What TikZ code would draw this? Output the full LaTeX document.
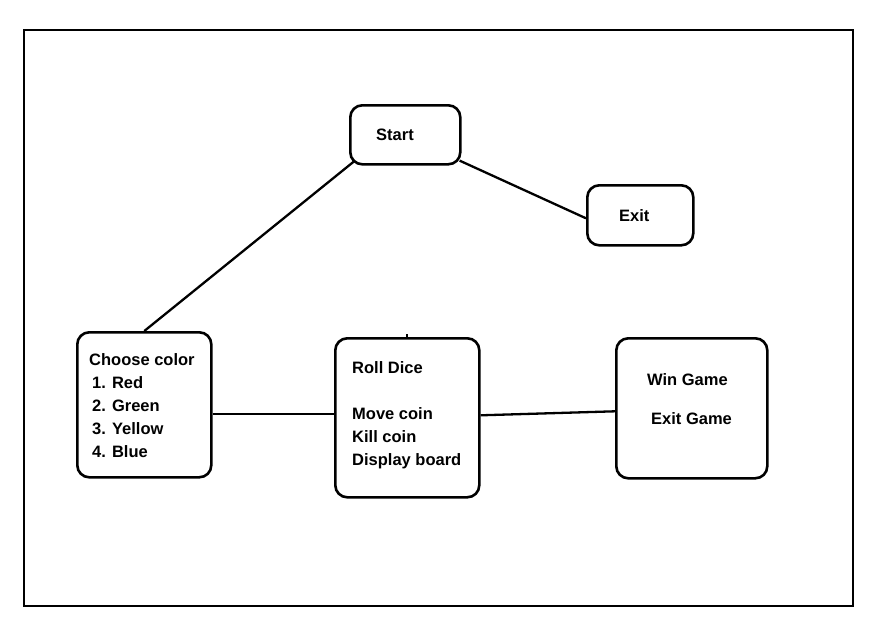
\documentclass[tikz,border=0pt]{standalone}
\usepackage{fontspec}
\setmainfont{Liberation Sans}
\usetikzlibrary{calc}
\begin{document}
\begin{tikzpicture}[x=1pt,y=-1pt,
  box/.style={draw, line width=2.6pt, rounded corners=12pt, anchor=north west, inner sep=0pt},
  label/.style={anchor=north west, inner sep=0pt, align=left, font=\bfseries\fontsize{16.5}{23}\selectfont},
  link/.style={line width=2.3pt}]
  \useasboundingbox (0,0) rectangle (877,635);
  % outer frame
  \draw[line width=2.8pt] (24,30) rectangle (853,606);

  % boxes
  \node[box, minimum width=110, minimum height=59] (start) at (349,104) {};
  \node[box, minimum width=106, minimum height=60] (exit) at (586,184) {};
  \node[box, minimum width=134, minimum height=145] (color) at (76,331) {};
  \node[box, minimum width=144, minimum height=159] (play) at (334,337) {};
  \node[box, minimum width=151, minimum height=140] (win) at (615,337) {};

  % texts
  \node[label] (tstart) at (376,129) {Start};
  \node[label] (texit) at (619,209) {Exit};
  \node[label] (tcolor) at (89,353) {Choose color\\\hspace{3pt}1. Red\\\hspace{3pt}2. Green\\\hspace{3pt}3. Yellow\\\hspace{3pt}4. Blue};
  \node[label] (tplay) at (352,361) {Roll Dice\\[23pt]Move coin\\Kill coin\\Display board};
  \node[label] (twin) at (647,373) {Win Game\\[16pt]\hspace{4pt}Exit Game};

  % connectors
  \draw[link] (color.north) -- ($(start.south west)+(6,-5)$);
  \draw[link] ($(start.south east)+(-2,-5)$) -- ($(exit.west)+(0,3)$);
  \draw[link] ($(color.east)+(0,9.5)$) -- ($(play.west)+(0,-3.5)$);
  \draw[link] ($(play.east)+(0,-2.5)$) -- ($(win.west)+(0,3)$);
  \draw[line width=2pt] (play.north) -- ++(0,-3);
\end{tikzpicture}
\end{document}
